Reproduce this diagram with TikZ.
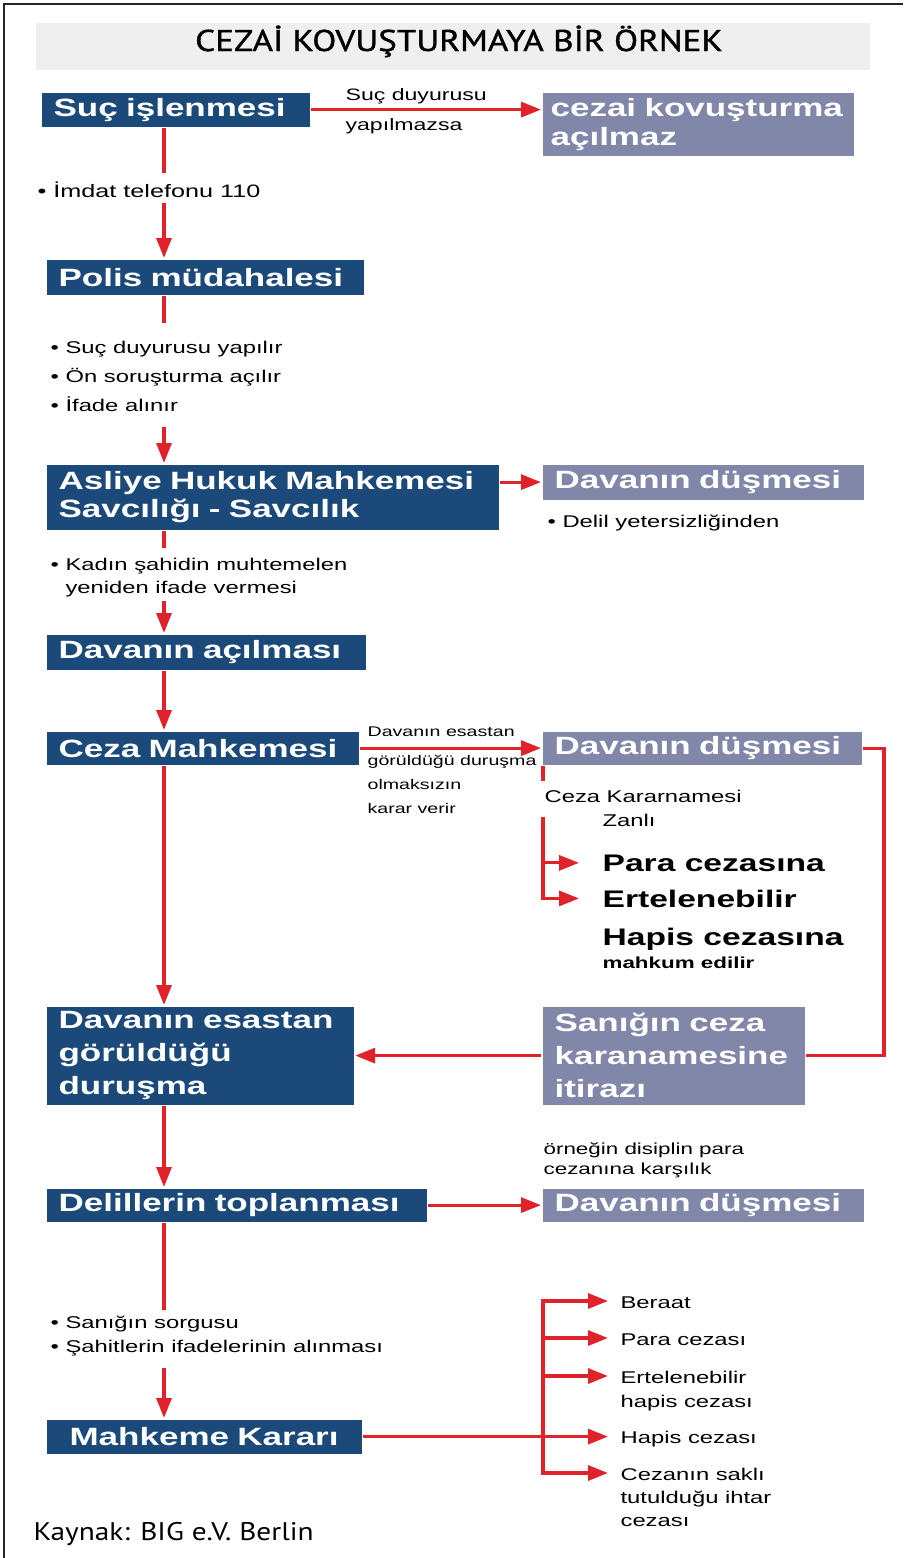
\documentclass[tikz,border=0pt]{standalone}
\usepackage{fontspec}
\setmainfont{Liberation Sans}[FakeStretch=1.4]
\newfontfamily\ptsans{PT Sans}[FakeStretch=1.15]
\newfontfamily\baslikyazi{PT Sans}[FakeStretch=1.17,FakeBold=1.2]
\usetikzlibrary{arrows.meta}
\definecolor{lacivert}{HTML}{1B4A7A}
\definecolor{gribox}{HTML}{8087A9}
\definecolor{kirmizi}{HTML}{E0232B}
\definecolor{bant}{HTML}{EFEFEF}

\begin{document}
\begin{tikzpicture}[x=1pt,y=-1pt,>={Triangle[length=20pt,width=15pt]},
                    line width=3.2pt]
  \tikzstyle{kutu}=[fill=lacivert,text=white,anchor=north west,inner xsep=12pt,
                    inner ysep=0pt,align=left,font=\fontsize{25}{29}\selectfont\bfseries]
  \tikzstyle{sonuc}=[kutu,fill=gribox]
  % base west = taban cizgisi (cok satirda son satir)
  \tikzstyle{yazi}=[inner sep=0pt,anchor=base west,align=left,
                    font=\fontsize{17}{29}\selectfont]
  \tikzstyle{hat}=[draw=kirmizi]
  \tikzstyle{ok}=[hat,->]

  \useasboundingbox (0,0) rectangle (903,1558);
  \draw[line width=2.6pt,black!85] (4,1558) -- (4,4) -- (903,4);
  \fill[bant] (36,23) rectangle (870,70);
  \node[anchor=base,inner sep=0pt,font=\fontsize{30}{36}\selectfont\baslikyazi]
       (baslik) at (459,51) {CEZAİ KOVUŞTURMAYA BİR ÖRNEK};

  % kutular
  \node[kutu,text width=244pt,minimum height=34pt] (suc)    at (40,91)   {Suç işlenmesi};
  \node[sonuc,inner xsep=8pt,text width=295pt,minimum height=63pt]
                                                   (cezai)  at (541,91)  {cezai kovuşturma\\açılmaz};
  \node[kutu,text width=293pt,minimum height=35pt] (polis)  at (45,258)  {Polis müdahalesi};
  \node[kutu,text width=428pt,minimum height=65pt,font=\fontsize{25}{28}\selectfont\bfseries]
                                                   (asliye) at (45,463)  {Asliye Hukuk Mahkemesi\\Savcılığı - Savcılık};
  \node[sonuc,text width=297pt,minimum height=35pt] (dus1)  at (541,463) {Davanın düşmesi};
  \node[kutu,text width=295pt,minimum height=35pt] (acilma) at (45,633)  {Davanın açılması};
  \node[kutu,text width=288pt,minimum height=33pt] (ceza)   at (45,730)  {Ceza Mahkemesi};
  \node[sonuc,text width=295pt,minimum height=33pt] (dus2)  at (541,730) {Davanın düşmesi};
  \node[kutu,text width=283pt,minimum height=98pt,font=\fontsize{25}{33}\selectfont\bfseries]
                                                   (esas)   at (45,1005) {Davanın esastan\\görüldüğü\\duruşma};
  \node[sonuc,text width=238pt,minimum height=98pt,font=\fontsize{25}{33}\selectfont\bfseries]
                                                   (itiraz) at (541,1005) {Sanığın ceza\\karanamesine\\itirazı};
  \node[kutu,text width=356pt,minimum height=33pt] (delil)  at (45,1187) {Delillerin toplanması};
  \node[sonuc,text width=297pt,minimum height=33pt] (dus3)  at (541,1187) {Davanın düşmesi};
  \node[kutu,text width=291pt,minimum height=34pt,align=center]
                                                   (karar)  at (45,1418) {Mahkeme Kararı};

  % yazilar
  \node[yazi,font=\fontsize{16.5}{30}\selectfont] (lbl1) at (344,130) {Suç duyurusu\\yapılmazsa};
  \node[yazi,font=\fontsize{18}{29}\selectfont] (imdat) at (36,197) {• İmdat telefonu 110};
  \node[yazi] (sorusturma) at (49,411) {• Suç duyurusu yapılır\\• Ön soruşturma açılır\\• İfade alınır};
  \node[yazi] (yetersiz) at (546,527) {• Delil yetersizliğinden};
  \node[yazi,font=\fontsize{17}{23}\selectfont] (kadin) at (49,593)
       {• Kadın şahidin muhtemelen\\\hphantom{• }yeniden ifade vermesi};
  \node[yazi,font=\fontsize{14}{24}\selectfont] (lbl2) at (366,813)
       {Davanın esastan\\[5pt]görüldüğü duruşma\\olmaksızın\\karar verir};
  \node[yazi] (kararname) at (543,802) {Ceza Kararnamesi};
  \node[yazi] (zanli) at (601,826) {Zanlı};
  \node[yazi,font=\fontsize{24}{29}\selectfont\bfseries] (para)   at (601,871) {Para cezasına};
  \node[yazi,font=\fontsize{24}{29}\selectfont\bfseries] (ert)    at (601,907) {Ertelenebilir};
  \node[yazi,font=\fontsize{24}{29}\selectfont\bfseries] (hapis)  at (601,945) {Hapis cezasına};
  \node[yazi,font=\fontsize{16}{20}\selectfont\bfseries] (mahkum) at (601,968) {mahkum edilir};
  \node[yazi,font=\fontsize{16}{20}\selectfont] (ornek) at (542,1174) {örneğin disiplin para\\cezanına karşılık};
  \node[yazi,font=\fontsize{17}{24}\selectfont] (sorgu) at (49,1352)
       {• Sanığın sorgusu\\• Şahitlerin ifadelerinin alınması};
  \node[yazi] (beraat)   at (619,1308) {Beraat};
  \node[yazi] (paracz)   at (619,1345) {Para cezası};
  \node[yazi,font=\fontsize{17}{24}\selectfont] (ertcz) at (619,1407) {Ertelenebilir\\hapis cezası};
  \node[yazi] (hapiscz)  at (619,1443) {Hapis cezası};
  \node[yazi,font=\fontsize{17}{23}\selectfont] (sakli) at (619,1526) {Cezanın saklı\\tutulduğu ihtar\\cezası};
  \node[yazi,font=\fontsize{25.5}{30}\selectfont\ptsans] (kaynak) at (32,1540) {Kaynak: BIG e.V. Berlin};

  \coordinate (ana) at (164,0);
  \coordinate (kol) at (543,0);
  \coordinate (sag) at (884,0);
  \coordinate (dal) at (543,0);

  % ana akis
  \draw[ok] (suc) -- (cezai.west |- suc);
  \draw[hat,shorten >=7pt] (suc.south -| ana) -- (imdat.north -| ana);
  \draw[ok,shorten <=4pt] (imdat.south -| ana) -- (polis.north -| ana);
  \draw[hat,shorten >=16pt] (polis.south -| ana) -- (sorusturma.north -| ana);
  \draw[ok,shorten <=14pt] (sorusturma.south -| ana) -- (asliye.north -| ana);
  \draw[ok] (asliye.east |- dus1) -- (dus1.west);
  \draw[hat,shorten >=8pt] (asliye.south -| ana) -- (kadin.north -| ana);
  \draw[ok,shorten <=3pt] (kadin.south -| ana) -- (acilma.north -| ana);
  \draw[ok] (acilma.south -| ana) -- (ceza.north -| ana);
  \draw[ok] (ceza) -- (dus2);
  \draw[ok] (ceza.south -| ana) -- (esas.north -| ana);
  \draw[hat] (dus2.east) -| (sag |- itiraz.east) -- (itiraz.east);
  \draw[ok] (itiraz) -- (esas);
  \draw[ok] (esas.south -| ana) -- (delil.north -| ana);
  \draw[ok] (delil) -- (dus3);
  \draw[hat,shorten >=4pt] (delil.south -| ana) -- (sorgu.north -| ana);
  \draw[ok,shorten <=11pt] (sorgu.south -| ana) -- (karar.north -| ana);

  % ceza kararnamesi kolu
  \draw[hat,shorten >=7pt] (dus2.south -| kol) -- (kararname.north -| kol);
  \draw[ok,shorten <=13pt,shorten >=22pt] (kararname.south -| kol) -- (ert.west -| kol) -- (ert.west);
  \draw[ok,shorten >=22pt] (para.west -| kol) -- (para.west);

  % mahkeme karari dallari
  \draw[ok,shorten >=11pt] (karar.east) -- (karar.east -| hapiscz.west);
  \draw[hat,line cap=rect] ([yshift=7pt]beraat.base west -| dal) -- ([yshift=53pt]sakli.base west -| dal);
  \draw[ok,shorten >=11pt] ([yshift=7pt]beraat.base west -| dal) -- ([yshift=7pt]beraat.base west);
  \draw[ok,shorten >=11pt] ([yshift=7pt]paracz.base west -| dal) -- ([yshift=7pt]paracz.base west);
  \draw[ok,shorten >=11pt] ([yshift=31pt]ertcz.base west -| dal) -- ([yshift=31pt]ertcz.base west);
  \draw[ok,shorten >=11pt] ([yshift=53pt]sakli.base west -| dal) -- ([yshift=53pt]sakli.base west);
\end{tikzpicture}
\end{document}
